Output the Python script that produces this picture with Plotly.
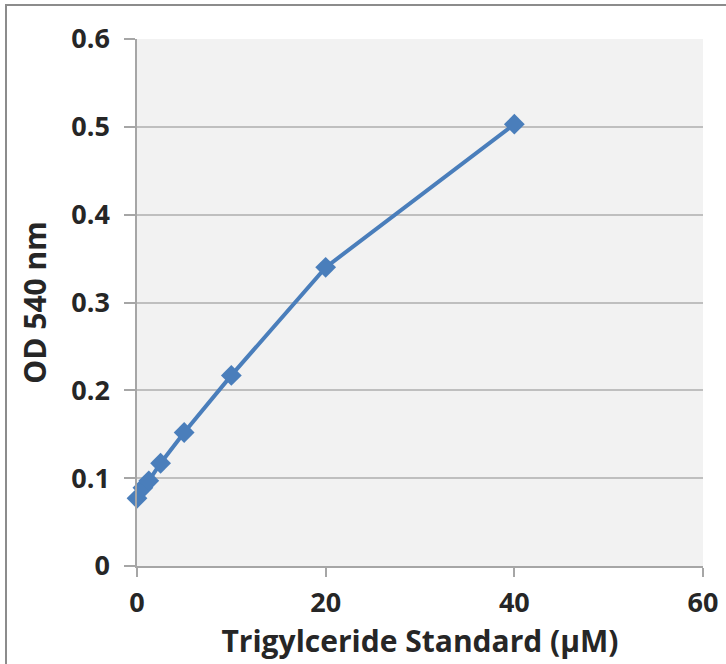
import plotly.graph_objects as go

concentration_uM = [0, 0.625, 1.25, 2.5, 5, 10, 20, 40]
od_540 = [0.077, 0.089, 0.097, 0.117, 0.152, 0.217, 0.340, 0.503]

x_ticks = [0, 20, 40, 60]
y_ticks = [0, 0.1, 0.2, 0.3, 0.4, 0.5, 0.6]
y_tick_labels = ["0", "0.1", "0.2", "0.3", "0.4", "0.5", "0.6"]

FONT = "Open Sans"
BLUE = "#4A7EBB"
TXT = "#262626"

fig = go.Figure()
fig.add_trace(go.Scatter(
    x=concentration_uM, y=od_540, mode="lines+markers",
    line=dict(color=BLUE, width=4),
    marker=dict(symbol="diamond", size=16, color=BLUE),
    showlegend=False, cliponaxis=False,
))

W, H = 726, 664
L, R, T, B = 137, 23, 39, 98
pw, ph = W - L - R, H - T - B

fig.update_layout(
    width=W, height=H,
    margin=dict(l=L, r=R, t=T, b=B, autoexpand=False),
    paper_bgcolor="white",
    plot_bgcolor="#F2F2F2",
    font=dict(family=FONT, color=TXT),
    xaxis=dict(
        range=[0, 60], tickvals=x_ticks, ticks="outside", ticklen=9,
        tickcolor="#A6A6A6", tickwidth=1.5,
        showline=True, linecolor="#A6A6A6", linewidth=1.5,
        showgrid=False, zeroline=False, ticklabelstandoff=3,
        tickfont=dict(size=27, family=FONT, weight="bold", color=TXT),
        title=dict(text="Trigylceride Standard (µM)", standoff=0,
                   font=dict(size=30, family=FONT, weight="bold", color=TXT)),
        automargin=False,
    ),
    yaxis=dict(
        range=[0, 0.6], tickvals=y_ticks, ticktext=y_tick_labels,
        ticks="outside", ticklen=11, tickcolor="#A6A6A6", tickwidth=1.5,
        showline=True, linecolor="#A6A6A6", linewidth=1.5,
        showgrid=True, gridcolor="#BFBFBF", gridwidth=2,
        zeroline=False, ticklabelstandoff=9,
        tickfont=dict(size=27, family=FONT, weight="bold", color=TXT),
        title=dict(text="OD 540 nm", standoff=16,
                   font=dict(size=30, family=FONT, weight="bold", color=TXT)),
        automargin=False,
    ),
)

# outer chart border (partially cropped like the reference)
fig.add_shape(
    type="rect", xref="paper", yref="paper",
    x0=(6 - L) / pw, x1=(W + 10 - L) / pw,
    y0=-(H + 10 - T - ph) / ph, y1=(H - 5 - B) / ph,
    line=dict(color="#8C8C8C", width=2), fillcolor="rgba(0,0,0,0)",
    layer="below",
)

fig.write_html("out.html", config={"displayModeBar": False},
               post_script="document.body.style.margin='0';")
